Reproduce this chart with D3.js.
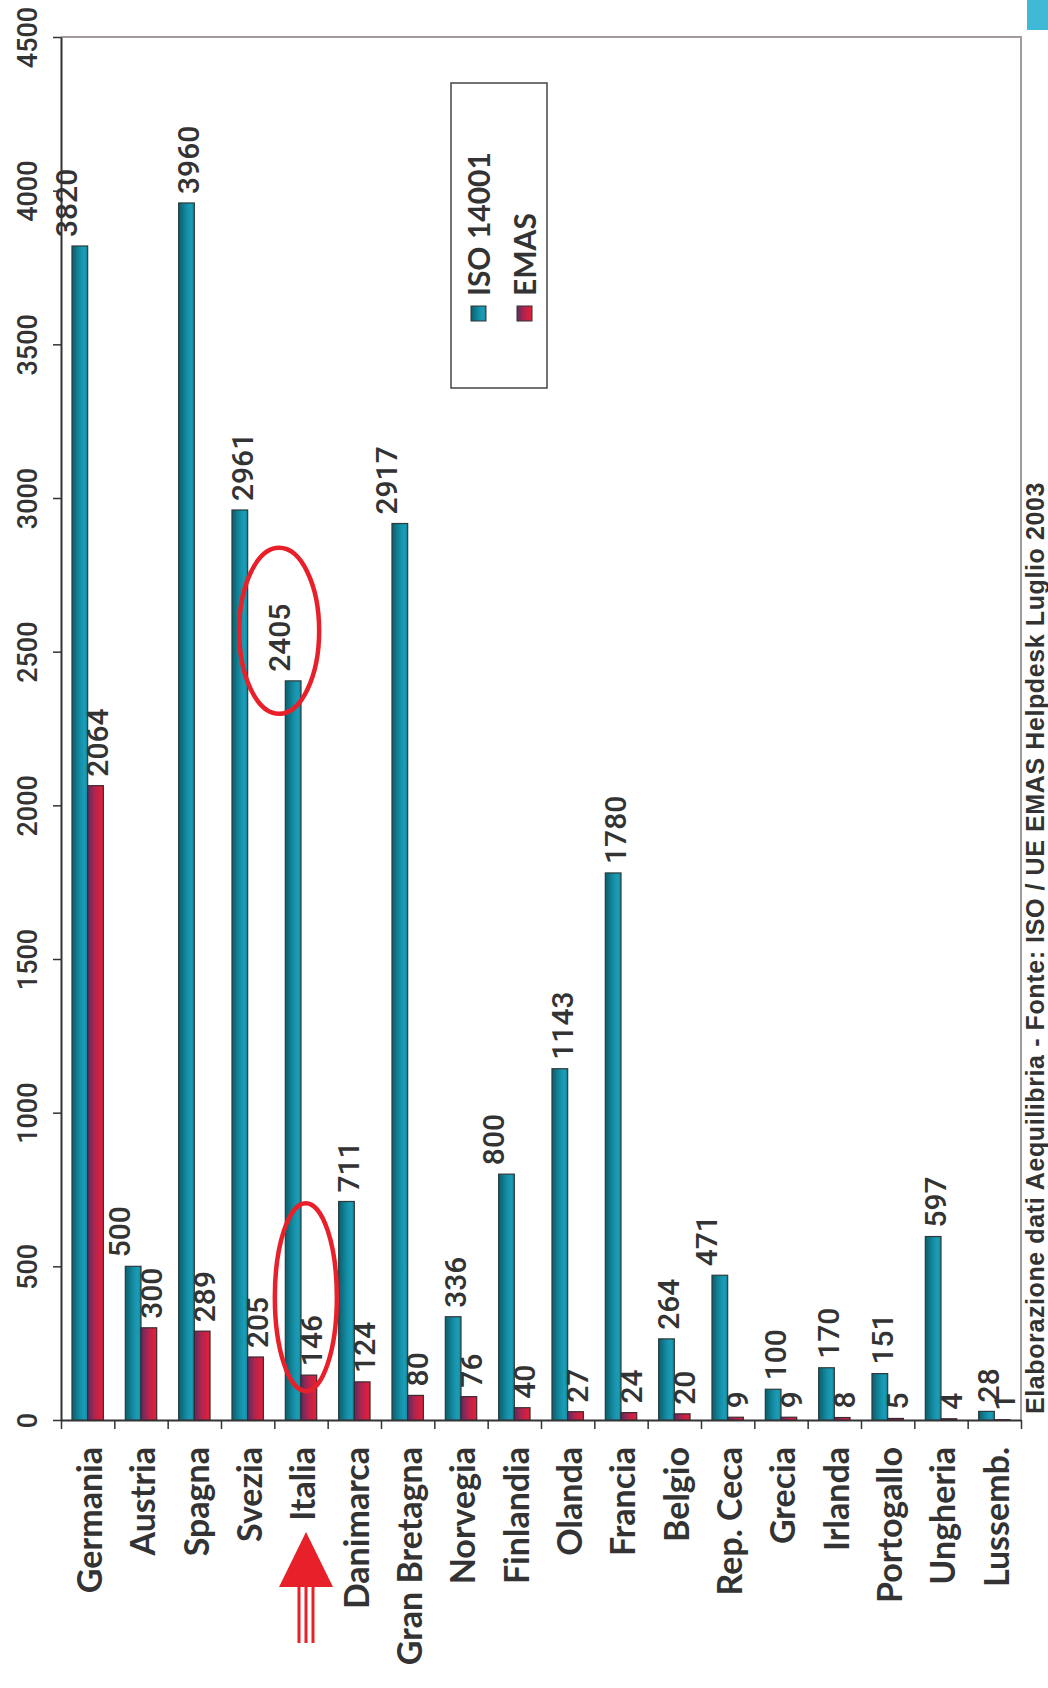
<!DOCTYPE html>
<html>
<head>
<meta charset="utf-8">
<script src="https://cdn.jsdelivr.net/npm/d3@7"></script>
<style>
  body { margin: 0; background: #fff; }
  svg text { fill: #333; }
</style>
</head>
<body>
<svg id="chart"></svg>
<script>
// data
const categories = ["Germania", "Austria", "Spagna", "Svezia", "Italia", "Danimarca", "Gran Bretagna", "Norvegia", "Finlandia", "Olanda", "Francia", "Belgio", "Rep. Ceca", "Grecia", "Irlanda", "Portogallo", "Ungheria", "Lussemb."];
const isoValues = [3820, 500, 3960, 2961, 2405, 711, 2917, 336, 800, 1143, 1780, 264, 471, 100, 170, 151, 597, 28];
const emasValues = [2064, 300, 289, 205, 146, 124, 80, 76, 40, 27, 24, 20, 9, 9, 8, 5, 4, 1];
const seriesNames = ["ISO 14001", "EMAS"];
const yTickValues = [0, 500, 1000, 1500, 2000, 2500, 3000, 3500, 4000, 4500];
const sourceNote = "Elaborazione dati Aequilibria - Fonte: ISO / UE EMAS Helpdesk Luglio 2003";
const highlighted = "Italia";
// ISO labels that sit left of their bar in the original slide
const isoLabelsLeft = ["Germania", "Austria", "Italia", "Gran Bretagna", "Finlandia", "Rep. Ceca"];

const WIDTH = 1048;
const HEIGHT = 1688;
const PLOT = { left: 61, right: 1021, top: 37, bottom: 1420 };
const RED = "#e8202a";
const NUM_FONT = "Roboto, 'DejaVu Sans', sans-serif";
const LABEL_FONT = "Lato, 'Open Sans', sans-serif";

const svg = d3.select("#chart")
  .attr("width", WIDTH)
  .attr("height", HEIGHT);

// gradients for the bars
const defs = svg.append("defs");
function addGradient(id, stops) {
  const g = defs.append("linearGradient").attr("id", id)
    .attr("x1", "0").attr("x2", "1").attr("y1", "0").attr("y2", "0");
  stops.forEach(s => g.append("stop").attr("offset", s[0]).attr("stop-color", s[1]));
}
addGradient("iso-grad", [["0%", "#0a5e6c"], ["55%", "#1590a8"], ["80%", "#1a9db7"], ["100%", "#12869c"]]);
addGradient("emas-grad", [["0%", "#5a2d62"], ["45%", "#b0244f"], ["100%", "#ea1e36"]]);

const x0 = d3.scaleBand()
  .domain(categories)
  .range([PLOT.left, PLOT.right])
  .padding(0);

const groupWidth = x0.bandwidth() / 1.7;
const groupOffset = (x0.bandwidth() - groupWidth) / 2;
const x1 = d3.scaleBand()
  .domain(seriesNames)
  .range([0, groupWidth]);

const y = d3.scaleLinear()
  .domain([0, 4500])
  .range([PLOT.bottom, PLOT.top]);

// frame (top + right)
svg.append("path")
  .attr("d", `M${PLOT.left},${PLOT.top}H${PLOT.right}V${PLOT.bottom}`)
  .attr("fill", "none")
  .attr("stroke", "#a39b99")
  .attr("stroke-width", 2);

// y axis
const yAxis = svg.append("g")
  .attr("transform", `translate(${PLOT.left},0)`)
  .call(d3.axisLeft(y).tickValues(yTickValues).tickFormat(d3.format("d")).tickSize(8).tickSizeOuter(0));
yAxis.select(".domain").attr("stroke", "#333").attr("stroke-width", 2);
yAxis.selectAll(".tick line").attr("stroke", "#333").attr("stroke-width", 1.5);
yAxis.selectAll(".tick text")
  .attr("x", null)
  .attr("dy", "0.36em")
  .attr("text-anchor", "middle")
  .attr("transform", `translate(${27 - PLOT.left},0) rotate(-90)`)
  .style("font-family", NUM_FONT)
  .style("font-size", "27px")
  .style("font-weight", 500)
  .attr("fill", "#333");

// x axis: ticks on the category boundaries
const xIdx = d3.scaleLinear().domain([0, categories.length]).range([PLOT.left, PLOT.right]);
const xAxis = svg.append("g")
  .attr("transform", `translate(0,${PLOT.bottom})`)
  .call(d3.axisBottom(xIdx).ticks(categories.length).tickFormat("").tickSize(9).tickSizeOuter(0));
xAxis.select(".domain").attr("stroke", "#333").attr("stroke-width", 2);
xAxis.selectAll(".tick line").attr("stroke", "#333").attr("stroke-width", 1.5);

// bars
const rows = categories.map((c, i) => ({ cat: c, iso: isoValues[i], emas: emasValues[i] }));

const groups = svg.append("g").selectAll("g")
  .data(rows)
  .enter()
  .append("g")
  .attr("transform", d => `translate(${x0(d.cat) + groupOffset},0)`);

groups.append("rect")
  .attr("x", x1("ISO 14001"))
  .attr("width", x1.bandwidth())
  .attr("y", d => y(d.iso))
  .attr("height", d => y(0) - y(d.iso))
  .attr("fill", "url(#iso-grad)")
  .attr("stroke", "#2f3a3c")
  .attr("stroke-width", 1.2);

groups.append("rect")
  .attr("x", x1("EMAS"))
  .attr("width", x1.bandwidth())
  .attr("y", d => y(d.emas))
  .attr("height", d => y(0) - y(d.emas))
  .attr("fill", "url(#emas-grad)")
  .attr("stroke", "#3a2a30")
  .attr("stroke-width", 1.2);

// value labels
function valueLabel(sel, key, series) {
  sel.append("text")
    .attr("transform", d => {
      let cx = x1(series) + x1.bandwidth() / 2 + 2;
      if (series === "ISO 14001" && isoLabelsLeft.includes(d.cat)) cx -= x1.bandwidth();
      return `translate(${cx},${y(d[key]) - 9}) rotate(-90)`;
    })
    .attr("dy", "0.36em")
    .attr("text-anchor", "start")
    .style("font-family", NUM_FONT)
    .style("font-size", "30px")
    .style("font-weight", 500)
    .text(d => d[key]);
}
valueLabel(groups, "iso", "ISO 14001");
valueLabel(groups, "emas", "EMAS");

// category labels
svg.append("g").selectAll("text")
  .data(categories)
  .enter()
  .append("text")
  .attr("transform", d => `translate(${x0(d) + x0.bandwidth() / 2 + 2},${PLOT.bottom + 27}) rotate(-90)`)
  .attr("dy", "0.36em")
  .attr("text-anchor", "end")
  .style("font-family", LABEL_FONT)
  .style("font-size", "34px")
  .style("font-weight", 700)
  .text(d => d);

// legend
const legend = svg.append("g");
legend.append("rect")
  .attr("x", 451).attr("y", 83)
  .attr("width", 96).attr("height", 305)
  .attr("fill", "#fff")
  .attr("stroke", "#444")
  .attr("stroke-width", 1.5);
seriesNames.forEach((name, i) => {
  const lx = 479 + i * 46;
  legend.append("rect")
    .attr("x", lx - 8).attr("y", 306)
    .attr("width", 15).attr("height", 15)
    .attr("fill", i === 0 ? "url(#iso-grad)" : "url(#emas-grad)")
    .attr("stroke", "#333")
    .attr("stroke-width", 1);
  legend.append("text")
    .attr("transform", `translate(${lx},296) rotate(-90)`)
    .attr("dy", "0.36em")
    .attr("text-anchor", "start")
    .style("font-family", LABEL_FONT)
    .style("font-size", "30px")
    .style("font-weight", 700)
    .text(name);
});

// highlight around Italia
const hiIdx = categories.indexOf(highlighted);
const hiX = x0(highlighted) + groupOffset;
const ann = svg.append("g").attr("fill", "none").attr("stroke", RED).attr("stroke-width", 4.5);
ann.append("ellipse")
  .attr("cx", hiX + x1("ISO 14001") + x1.bandwidth() / 2 - 14)
  .attr("cy", y(isoValues[hiIdx]) - 50)
  .attr("rx", 40).attr("ry", 83);
ann.append("ellipse")
  .attr("cx", hiX + x1("EMAS") + x1.bandwidth() / 2 - 3)
  .attr("cy", y(emasValues[hiIdx]) - 78)
  .attr("rx", 31).attr("ry", 94);

// arrow under the Italia label
const ax = x0(highlighted) + x0.bandwidth() / 2 + 5;
svg.append("path")
  .attr("d", `M${ax},1532L${ax + 27},1587L${ax - 27},1587Z`)
  .attr("fill", RED);
[-7, 0, 7].forEach(dx => {
  svg.append("line")
    .attr("x1", ax + dx).attr("x2", ax + dx)
    .attr("y1", 1586).attr("y2", 1643)
    .attr("stroke", RED)
    .attr("stroke-width", 3);
});

// source note on the right
svg.append("text")
  .attr("transform", `translate(1035,1414) rotate(-90)`)
  .attr("dy", "0.36em")
  .attr("text-anchor", "start")
  .style("font-family", "'Liberation Sans', Arial, sans-serif")
  .style("font-size", "25px")
  .style("font-weight", 700)
  .style("letter-spacing", "0.6px")
  .text(sourceNote);

// corner tab
svg.append("rect")
  .attr("x", 1027).attr("y", 0)
  .attr("width", 21).attr("height", 30)
  .attr("fill", "#3fb9d6");
</script>
</body>
</html>
